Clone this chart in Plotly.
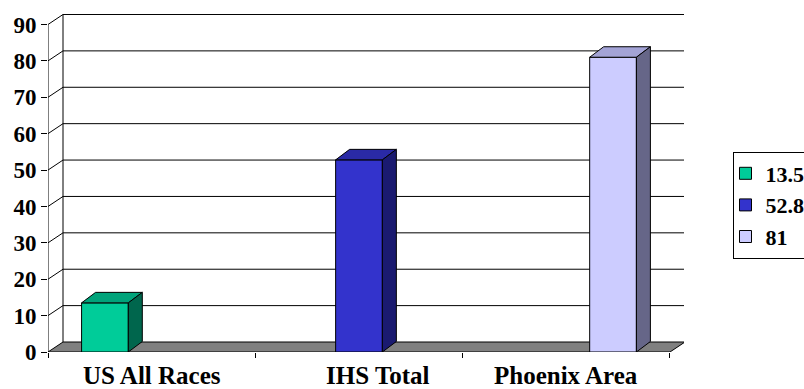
import plotly.graph_objects as go

# ---- data ----
CATEGORIES = ["US All Races", "IHS Total", "Phoenix Area"]
SERIES_NAMES = ["13.5", "52.8", "81"]
SERIES_1 = [13.5, None, None]
SERIES_2 = [None, 52.8, None]
SERIES_3 = [None, None, 81]
Y_TICKS = [0, 10, 20, 30, 40, 50, 60, 70, 80, 90]

# ---- style ----
FRONT = ["#00CC99", "#3333CC", "#CCCCFF"]
TOP = ["#00A37A", "#2A2AA6", "#A3A3D6"]
SIDE = ["#00664D", "#1A1A70", "#666688"]
FONT = "Liberation Serif"

W, H = 804, 389
ML, MR, MT, MB = 48, 120, 14, 37
PX_PER_CAT = 207.33
PX_PER_UNIT = 3.639
WALL_DX_PX, WALL_DY_PX = 15, 10
BAR_DX_PX, BAR_DY_PX = 14, 10.5
BARGAP = 0.324
LABEL_XSHIFT = [0, 19, 0]

plot_w = W - ML - MR
plot_h = H - MT - MB
ncat = len(CATEGORIES)
xr = [-0.5, -0.5 + plot_w / PX_PER_CAT]
yr = [0, plot_h / PX_PER_UNIT]
wdx = WALL_DX_PX / PX_PER_CAT
wdy = WALL_DY_PX / PX_PER_UNIT
bdx = BAR_DX_PX / PX_PER_CAT
bdy = BAR_DY_PX / PX_PER_UNIT
ymax = Y_TICKS[-1]
x0, x1 = -0.5, ncat - 0.5
positions = list(range(ncat))
series = [SERIES_1, SERIES_2, SERIES_3]
nser = len(series)
bw = (1 - BARGAP) / nser

fig = go.Figure()

shapes = []
# back wall gridlines (with diagonal to front axis)
for v in Y_TICKS[1:]:
    shapes.append(dict(type="path", layer="below", xref="x", yref="y",
                       path=f"M{x0},{v} L{x0 + wdx},{v + wdy} L{x1 + wdx},{v + wdy}",
                       line=dict(color="#000000", width=1)))
# back wall vertical edges
for xe in (x0 + wdx, x1 + wdx):
    shapes.append(dict(type="line", layer="below", xref="x", yref="y",
                       x0=xe, x1=xe, y0=wdy, y1=ymax + wdy,
                       line=dict(color="#000000", width=1)))
# floor
shapes.append(dict(type="path", layer="below", xref="x", yref="y",
                   path=f"M{x0},0 L{x1},0 L{x1 + wdx},{wdy} L{x0 + wdx},{wdy} Z",
                   fillcolor="#808080", line=dict(color="#000000", width=1)))
# front value axis line
shapes.append(dict(type="line", layer="below", xref="x", yref="y",
                   x0=x0, x1=x0, y0=0, y1=ymax,
                   line=dict(color="#000000", width=1)))

# front faces
for i, (vals, name) in enumerate(zip(series, SERIES_NAMES)):
    fig.add_trace(go.Bar(x=positions, y=vals, name=name,
                         marker=dict(color=FRONT[i], line=dict(color="#000000", width=1))))

# 3D top and side faces
for i, vals in enumerate(series):
    for j, v in enumerate(vals):
        if v is None:
            continue
        xc = positions[j] + (i - (nser - 1) / 2) * bw
        xl, xrr = xc - bw / 2, xc + bw / 2
        fig.add_trace(go.Scatter(
            x=[xl, xrr, xrr + bdx, xl + bdx, xl], y=[v, v, v + bdy, v + bdy, v],
            fill="toself", fillcolor=TOP[i], mode="lines",
            line=dict(color="#000000", width=1), showlegend=False, hoverinfo="skip"))
        fig.add_trace(go.Scatter(
            x=[xrr, xrr + bdx, xrr + bdx, xrr, xrr], y=[0, bdy, v + bdy, v, 0],
            fill="toself", fillcolor=SIDE[i], mode="lines",
            line=dict(color="#000000", width=1), showlegend=False, hoverinfo="skip"))

annotations = []
for j, c in enumerate(CATEGORIES):
    annotations.append(dict(x=positions[j], y=0, xref="x", yref="paper",
                            text=c, showarrow=False, yanchor="top",
                            xshift=LABEL_XSHIFT[j], yshift=-8,
                            font=dict(family=FONT, size=25, color="#000000", weight="bold")))

fig.update_layout(
    width=W, height=H,
    margin=dict(l=ML, r=MR, t=MT, b=MB, autoexpand=False),
    paper_bgcolor="white", plot_bgcolor="rgba(0,0,0,0)",
    barmode="group", bargap=BARGAP,
    shapes=shapes, annotations=annotations,
    showlegend=True,
    legend=dict(x=(732.5 - ML) / plot_w, y=(H - MB - 151.5) / plot_h,
                xanchor="left", yanchor="top",
                bgcolor="white", bordercolor="#000000", borderwidth=1,
                font=dict(family=FONT, size=22, color="#000000", weight="bold"),
                traceorder="normal", itemwidth=30, indentation=-8),
    xaxis=dict(range=xr, tickvals=[p - 0.5 for p in positions] + [positions[-1] + 0.5],
               ticktext=[""] * (ncat + 1), ticks="outside", ticklen=5,
               tickcolor="#000000", showgrid=False, zeroline=False, showline=False,
               fixedrange=True),
    yaxis=dict(range=yr, tickvals=Y_TICKS, ticks="outside", ticklen=6,
               tickcolor="#000000", showgrid=False, zeroline=False, showline=False,
               tickfont=dict(family=FONT, size=23, color="#000000", weight="bold"),
               fixedrange=True),
)

fig.write_html("out.html")
